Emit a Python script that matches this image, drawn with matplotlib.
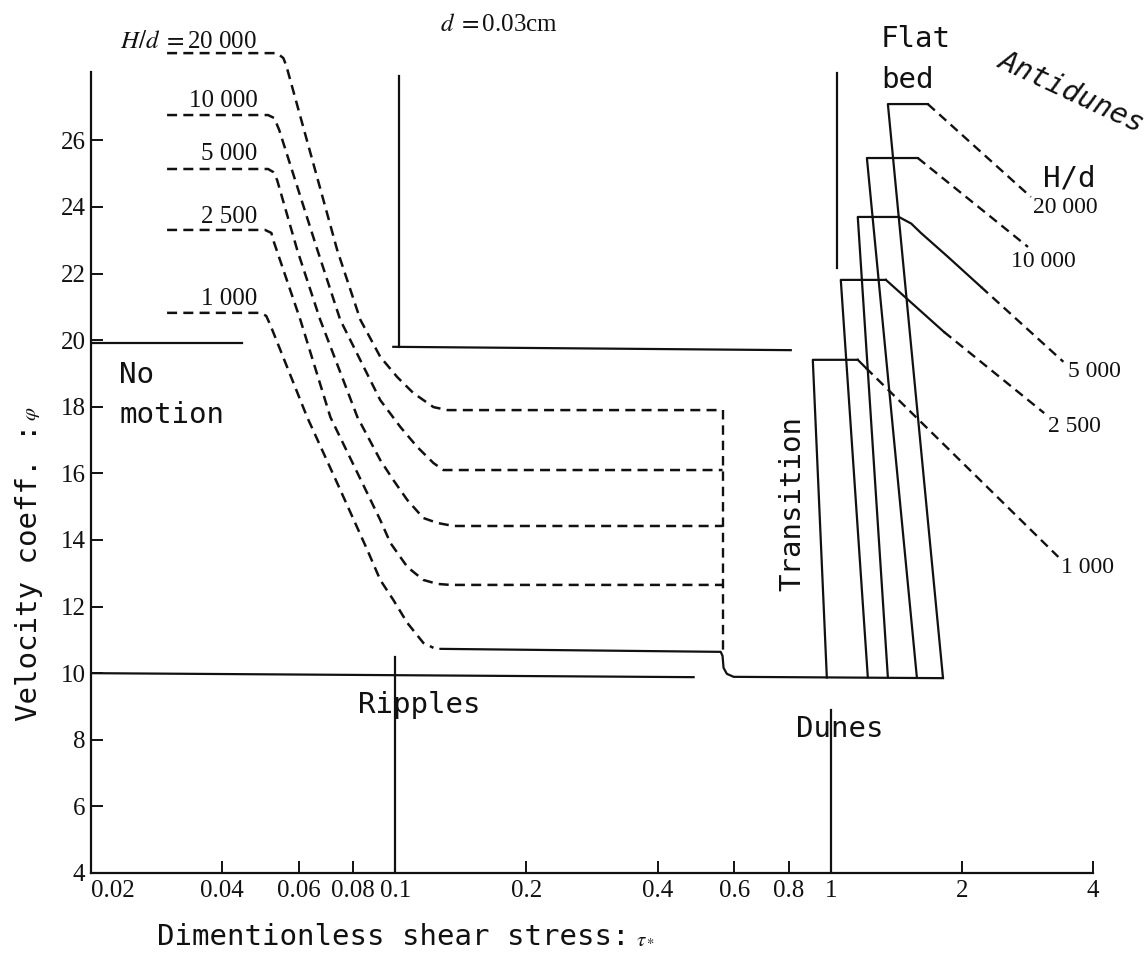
import matplotlib
matplotlib.use('Agg')
import matplotlib.pyplot as plt

plt.rcParams['mathtext.fontset'] = 'stix'

# axes
x_ticks = [0.02, 0.04, 0.06, 0.08, 0.1, 0.2, 0.4, 0.6, 0.8, 1, 2, 4]
x_tick_labels = ['0.02', '0.04', '0.06', '0.08', '0.1', '0.2', '0.4', '0.6', '0.8', '1', '2', '4']
y_ticks = [4, 6, 8, 10, 12, 14, 16, 18, 20, 22, 24, 26]

hd_labels = ['20 000', '10 000', '5 000', '2 500', '1 000']

# ripple curves (dashed), one per H/d
rip_x_20000 = [0.0299, 0.0535, 0.0553, 0.0562, 0.0735, 0.0831, 0.0923, 0.1010, 0.1100, 0.1223, 0.1317, 0.564]
rip_y_20000 = [28.62, 28.62, 28.47, 28.23, 22.71, 20.61, 19.50, 18.89, 18.41, 17.99, 17.90, 17.90]
rip_x_10000 = [0.0299, 0.0510, 0.0527, 0.0541, 0.0662, 0.0747, 0.0923, 0.1027, 0.1123, 0.1223, 0.1289, 0.564]
rip_y_10000 = [26.76, 26.76, 26.67, 26.31, 22.71, 20.61, 18.20, 17.39, 16.79, 16.31, 16.10, 16.10]
rip_x_5000 = [0.0299, 0.0510, 0.0524, 0.0535, 0.0595, 0.0672, 0.0818, 0.0923, 0.0989, 0.1065, 0.1159, 0.1249, 0.1359, 0.564]
rip_y_5000 = [25.14, 25.14, 25.05, 24.81, 22.71, 20.61, 17.69, 16.40, 15.80, 15.20, 14.66, 14.51, 14.42, 14.42]
rip_x_2500 = [0.0299, 0.0502, 0.0519, 0.0524, 0.0605, 0.0709, 0.0923, 0.0974, 0.1065, 0.1159, 0.1249, 0.1338, 0.564]
rip_y_2500 = [23.31, 23.31, 23.22, 23.01, 20.61, 17.69, 14.60, 13.91, 13.19, 12.80, 12.68, 12.65, 12.65]
rip_x_1000 = [0.0299, 0.0489, 0.0505, 0.0516, 0.0627, 0.0735, 0.0862, 0.0923, 0.0989, 0.1065, 0.1159, 0.1223]
rip_y_1000 = [20.82, 20.82, 20.73, 20.46, 17.69, 15.71, 13.70, 12.80, 12.20, 11.51, 10.91, 10.76]

# solid floor: 1000 ripple line, step down, dune bed
floor_x = [0.1269, 0.5585, 0.564, 0.567, 0.577, 0.598, 1.809]
floor_y = [10.73, 10.64, 10.52, 10.16, 9.98, 9.89, 9.85]
rip_edge_x = 0.564

# transition / flat bed (20000, 10000, 5000, 2500, 1000)
tr_bottom_x = [1.809, 1.576, 1.352, 1.216, 0.979]
tr_top_x = [1.352, 1.210, 1.153, 1.054, 0.909]
tr_top_y = [27.09, 25.47, 23.70, 21.81, 19.41]
tr_flat_end_x = [1.670, 1.584, 1.433, 1.338, 1.153]
bed_y = 9.87

# antidunes: solid part after the flat, then dashed to the end
anti_solid_x = [[], [], [1.530, 1.610, 1.858, 2.212], [1.818], [1.203]]
anti_solid_y = [[], [], [23.50, 23.22, 22.50, 21.60], [20.25], [19.17]]
anti_end_x = [2.88, 2.836, 3.42, 3.09, 3.33]
anti_end_y = [24.30, 22.80, 19.35, 17.81, 13.49]

left_lab_x = 0.0482
left_lab_y = [28.77, 27.0, 25.41, 23.52, 21.06]
right_lab_x = [2.91, 2.59, 3.51, 3.15, 3.38]
right_lab_y = [23.82, 22.2, 18.9, 17.24, 13.0]

# region boundaries
nomotion_x, nomotion_y = [0.02, 0.0445], [19.9, 19.9]
ripple_top_x, ripple_top_y = [0.0989, 0.809], [19.8, 19.7]
upper_v_x, upper_v_y = [0.102, 0.102], [19.8, 27.93]
ten_x, ten_y = [0.02, 0.484], [10.0, 9.88]
low_v_x, low_v_y = [0.1, 0.1], [4, 10.5]
one_v_x, one_v_y = [1.0, 1.0], [4, 8.9]
flat_v_x, flat_v_y = [1.035, 1.035], [22.17, 28.02]

mono = 'DejaVu Sans Mono'
serif = 'Liberation Serif'
ink = '#111111'
dash = (0, (4, 2.5))

fig = plt.figure(figsize=(11.48, 9.55), dpi=100)
ax = fig.add_axes([0.0793, 0.0859, 0.8728, 0.9066])
ax.set_xscale('log')
ax.set_xlim(0.02, 4)
ax.set_ylim(4, 30)

for s in ['top', 'right']:
    ax.spines[s].set_visible(False)
ax.spines['left'].set_bounds(4, 28.05)
for s in ['left', 'bottom']:
    ax.spines[s].set_linewidth(1.6)
    ax.spines[s].set_color(ink)

ax.set_xticks(x_ticks)
ax.set_xticks([], minor=True)
ax.set_xticklabels(x_tick_labels, fontfamily=serif, fontsize=18)
ax.set_yticks(y_ticks)
ax.set_yticklabels([str(v) for v in y_ticks], fontfamily=serif, fontsize=18)
ax.tick_params(direction='in', length=8.5, width=1.4, color=ink, labelcolor=ink)
ax.tick_params(axis='x', pad=5)
ax.tick_params(axis='y', pad=4)
ax.get_xticklabels()[0].set_ha('left')

# ripple curves
rip_x = [rip_x_20000, rip_x_10000, rip_x_5000, rip_x_2500, rip_x_1000]
rip_y = [rip_y_20000, rip_y_10000, rip_y_5000, rip_y_2500, rip_y_1000]
for xs, ys in zip(rip_x, rip_y):
    ax.plot(xs, ys, color=ink, lw=1.8, linestyle=dash, clip_on=False)
ax.plot([rip_edge_x, rip_edge_x], [rip_y_20000[-1], floor_y[1]], color=ink, lw=1.7, linestyle=dash)
ax.plot(floor_x, floor_y, color=ink, lw=1.6)

# transition and antidunes
for i in range(5):
    ax.plot([tr_bottom_x[i], tr_top_x[i], tr_flat_end_x[i]],
            [bed_y, tr_top_y[i], tr_top_y[i]], color=ink, lw=1.6)
    sx = [tr_flat_end_x[i]] + anti_solid_x[i]
    sy = [tr_top_y[i]] + anti_solid_y[i]
    ax.plot(sx, sy, color=ink, lw=1.6)
    ax.plot([sx[-1], anti_end_x[i]], [sy[-1], anti_end_y[i]], color=ink, lw=1.7, linestyle=dash)
    ax.text(right_lab_x[i], right_lab_y[i], hd_labels[i], fontfamily=serif, fontsize=17,
            ha='left', va='baseline', color=ink)
    lab = hd_labels[i] if i > 0 else r'$H/d\;=$' + hd_labels[i]
    ax.text(left_lab_x, left_lab_y[i], lab, fontfamily=serif, fontsize=18,
            ha='right', va='baseline', color=ink)

# boundaries
for bx, by in [(nomotion_x, nomotion_y), (ripple_top_x, ripple_top_y), (upper_v_x, upper_v_y),
               (ten_x, ten_y), (low_v_x, low_v_y), (one_v_x, one_v_y), (flat_v_x, flat_v_y)]:
    ax.plot(bx, by, color=ink, lw=1.6)

# region names
txt = dict(fontfamily=mono, fontsize=21, color=ink)
ax.text(0.0232, 18.71, 'No', va='baseline', **txt)
ax.text(0.0232, 17.51, 'motion', va='baseline', **txt)
ax.text(0.0822, 8.8, 'Ripples', va='baseline', **txt)
ax.text(0.8306, 8.08, 'Dunes', va='baseline', **txt)
ax.text(0.853, 15.11, 'Transition', rotation=90, rotation_mode='anchor',
        ha='center', va='baseline', **txt)
ax.text(1.303, 28.8, 'Flat', va='baseline', **txt)
ax.text(1.303, 27.57, 'bed', va='baseline', **txt)
ax.text(3.56, 27.45, 'Antidunes', rotation=-25, ha='center', va='center', style='oblique', **txt)
ax.text(3.07, 24.6, 'H/d', va='baseline', **txt)
ax.text(0.1269, 29.28, r'$d\;=$0.03cm', fontfamily=serif, fontsize=18, va='baseline', color=ink)

# axis titles
fig.text(157 / 1148, 1 - 945 / 955, 'Dimentionless shear stress:', va='baseline', **txt)
fig.text(636 / 1148, 1 - 944 / 955, r'$\tau_*$', fontsize=15, va='baseline', color=ink)
fig.text(37 / 1148, 1 - 572 / 955, 'Velocity coeff. :', rotation=90, rotation_mode='anchor',
         ha='center', va='baseline', **txt)
fig.text(32 / 1148, 1 - 414 / 955, r'$\varphi$', rotation=90, ha='center', va='center',
         fontsize=15, color=ink)

fig.savefig('out.png', dpi=100, facecolor='white')
